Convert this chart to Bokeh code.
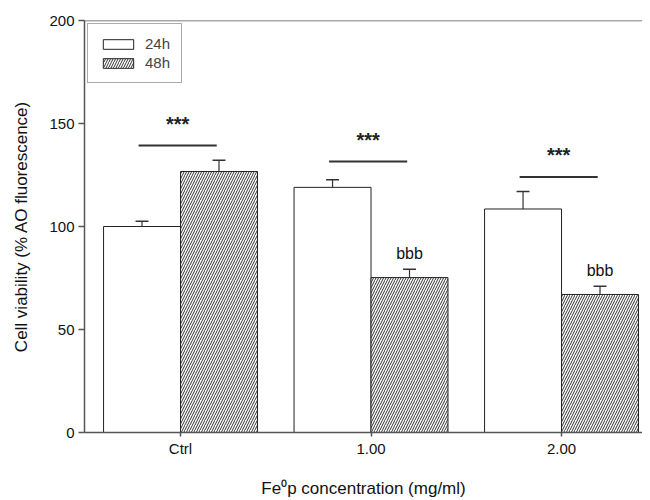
import numpy as np
from bokeh.plotting import figure
from bokeh.models import FixedTicker, Range1d, Span, Legend, LegendItem
from bokeh.core.properties import value
from bokeh.embed import file_html
from bokeh.resources import INLINE

# ---- data ----
categories = ["Ctrl", "1.00", "2.00"]
viab_24h = [100.0, 119.0, 108.5]
err_24h = [2.5, 3.7, 8.5]
viab_48h = [126.7, 75.2, 67.0]
err_48h = [5.5, 4.0, 4.0]
sig_line_y = [139.3, 131.5, 124.0]
sig_text = ["***", "***", "***"]
b_text = ["", "bbb", "bbb"]

FONT = "Liberation Sans"
AX = "#555555"

x = np.arange(len(categories), dtype=float)
dodge = 0.202
bw = 0.404

p = figure(width=642, height=500, output_backend="svg", toolbar_location=None,
           x_range=Range1d(-0.504, 2.425), y_range=Range1d(0, 200),
           min_border_left=84, min_border_top=20, min_border_bottom=68, min_border_right=0)
p.outline_line_color = None
p.grid.grid_line_color = None
p.background_fill_color = "white"

# bars
r24 = p.vbar(x=x - dodge, top=viab_24h, width=bw, fill_color="white",
             line_color="#222222", line_width=1)
r48 = p.vbar(x=x + dodge, top=viab_48h, width=bw, fill_color="white",
             line_color="#222222", line_width=1,
             hatch_pattern="/", hatch_scale=5, hatch_weight=1, hatch_color="#333333")

# error bars (upper only)
cap = 0.034
for off, v, e in [(-dodge, viab_24h, err_24h), (dodge, viab_48h, err_48h)]:
    xs = x + off
    tops = np.array(v) + np.array(e)
    p.segment(x0=xs, y0=v, x1=xs, y1=tops, line_color="#333333", line_width=1.2)
    p.segment(x0=xs - cap, y0=tops, x1=xs + cap, y1=tops, line_color="#333333", line_width=1.5)

# significance lines and stars
p.segment(x0=x - 0.22, y0=sig_line_y, x1=x + 0.19, y1=sig_line_y,
          line_color="#333333", line_width=2)
p.text(x=x - 0.015, y=sig_line_y, text=sig_text, text_align="center",
       text_baseline="middle", y_offset=-22, text_font=value(FONT),
       text_font_size="20px", text_font_style="bold", text_color="#222222")

tops48 = np.array(viab_48h) + np.array(err_48h)
p.text(x=x + dodge, y=tops48, text=b_text, text_align="center",
       text_baseline="middle", y_offset=-16, text_font=value(FONT),
       text_font_size="16px", text_color="#111111")

# top frame line
p.add_layout(Span(location=200, dimension="width", line_color=AX, line_width=1.5))

# axes
p.xaxis.ticker = FixedTicker(ticks=list(x))
p.xaxis.major_label_overrides = {int(i): c for i, c in zip(range(3), categories)}
p.yaxis.ticker = FixedTicker(ticks=[0, 50, 100, 150, 200])
for ax in (p.xaxis[0], p.yaxis[0]):
    ax.axis_line_color = AX
    ax.axis_line_width = 1.5
    ax.major_tick_line_color = AX
    ax.major_tick_line_width = 1.5
    ax.minor_tick_line_color = None
    ax.major_label_text_font = FONT
    ax.major_label_text_font_size = "15px"
    ax.major_label_text_color = "#111111"
    ax.axis_label_text_font = FONT
    ax.axis_label_text_font_size = "17px"
    ax.axis_label_text_font_style = "normal"
    ax.axis_label_text_color = "#111111"
p.xaxis.major_tick_in = 0
p.xaxis.major_tick_out = 4
p.yaxis.major_tick_in = 0
p.yaxis.major_tick_out = 6
p.yaxis.major_label_standoff = 4
p.xaxis.major_label_standoff = 3
p.xaxis.axis_label = "Fe\u2070p concentration (mg/ml)"
p.xaxis.axis_label_standoff = 19
p.yaxis.axis_label = "Cell viability (% AO fluorescence)"
p.yaxis.axis_label_standoff = 15

legend = Legend(items=[LegendItem(label="24h", renderers=[r24]),
                       LegendItem(label="48h", renderers=[r48])],
                location="top_left")
legend.margin = 3
legend.padding = 11
legend.spacing = 2
legend.glyph_width = 38
legend.glyph_height = 12
legend.label_standoff = 8
legend.label_text_font = FONT
legend.label_text_font_size = "15px"
legend.border_line_color = AX
legend.border_line_width = 1.5
legend.background_fill_alpha = 1
p.add_layout(legend)

open("out.html", "w").write(file_html(p, INLINE))
